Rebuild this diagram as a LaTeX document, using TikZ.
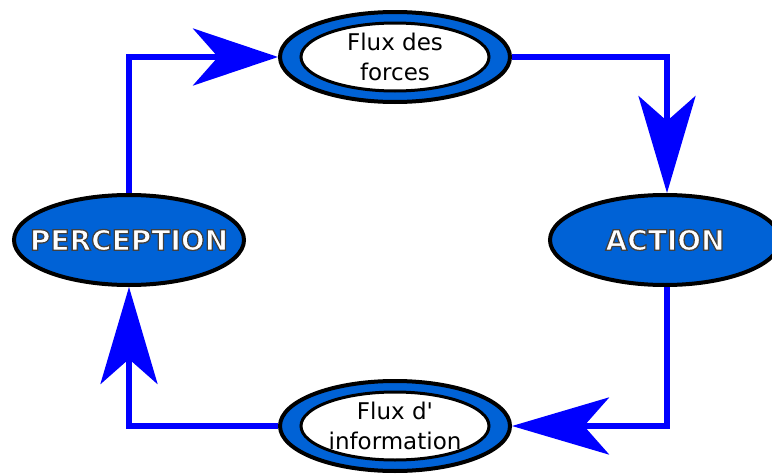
\documentclass[tikz,border=0pt]{standalone}
\usepackage{fontspec}
\newfontfamily\dejavu{DejaVu Sans}[Ligatures=TeXOff]
\usetikzlibrary{shapes.geometric,arrows.meta}
\definecolor{bleufond}{RGB}{0,98,214}
% texte blanc cerne de gris
\newcommand{\cerne}[1]{\special{pdf:literal direct 2 Tr 1.3 w 0.25 0.25 0.25 RG}#1\special{pdf:literal direct 0 Tr}}

\begin{document}
\begin{tikzpicture}[x=1pt,y=-1pt,
	bloc/.style={ellipse,draw=black,line width=4pt,fill=bleufond,minimum width=230pt,minimum height=90pt,inner sep=0pt},
	interne/.style={ellipse,draw=black,line width=3pt,fill=white,minimum width=188pt,minimum height=68pt,inner sep=0pt,align=center,font=\dejavu\fontsize{23}{30}\selectfont},
	titre/.style={text=white,inner sep=0pt,font=\dejavu\bfseries\fontsize{28}{34}\selectfont},
	fleche/.style={draw=blue,line width=5.5pt,-{Stealth[length=#1,width=57pt,inset=25pt]}},
	fleche/.default=97pt]
	\useasboundingbox (0,0) rectangle (772,474);
			
			\node[bloc] (perception) at (129,240) {};
			\node[titre] (perceptiontexte) at (perception.center) {\cerne{PERCEPTION}};
			\node[bloc] (action) at (665,240) {};
			\node[titre] (actiontexte) at (action.center) {\cerne{ACTION}};
			\node[bloc] (forces) at (395,57) {};
			\node[interne] (forcestexte) at (forces.center) {Flux des\\forces};
			\node[bloc] (information) at (395,426) {};
			\node[interne] (infotexte) at (information.center) {Flux d'\\information};
			
			\draw[fleche=85pt] (perception.north) |- (forces.west);
			\draw[fleche] (forces.east) -| ([xshift=2pt]action.north);
			\draw[fleche] ([xshift=2pt]action.south) |- (information.east);
			\draw[fleche] (information.west) -| (perception.south);
			\end{tikzpicture}
\end{document}
